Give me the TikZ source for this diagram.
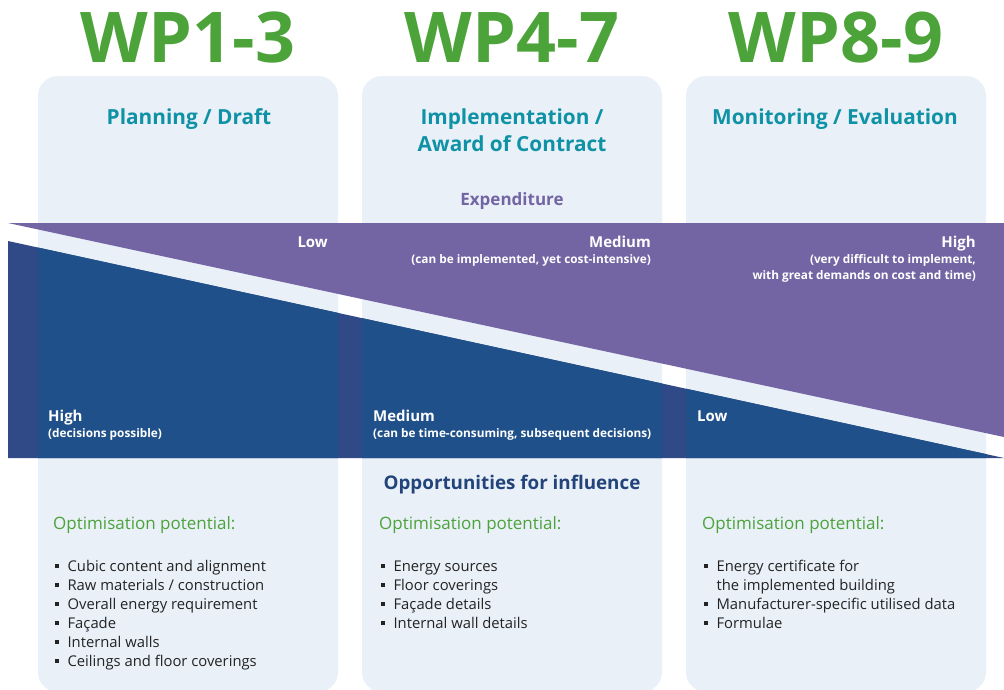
\documentclass[tikz,border=0pt]{standalone}
\usepackage{fontspec}
\setmainfont{Open Sans}
\definecolor{wpgreen}{RGB}{76,163,58}
\definecolor{titleteal}{RGB}{16,146,166}
\definecolor{panelblue}{RGB}{233,240,248}
\definecolor{costpurple}{RGB}{115,101,164}
\definecolor{inflblue}{RGB}{31,80,137}
\definecolor{inflblueout}{RGB}{47,74,135}
\definecolor{textgrey}{RGB}{35,35,35}
\definecolor{headblue}{RGB}{35,68,122}
\newcommand{\sqbul}{\raisebox{3.4pt}{\rule{3.4pt}{3.4pt}}\hspace{9pt}}
\begin{document}
\begin{tikzpicture}[x=1pt,y=-1pt,
    every node/.style={inner sep=0pt},
    wp/.style={text=wpgreen,font=\fontsize{70}{70}\selectfont\bfseries,anchor=base},
    phase/.style={text=titleteal,font=\fontsize{20.8}{20.8}\selectfont\bfseries,anchor=base},
    axis/.style={font=\fontsize{17}{17}\selectfont\bfseries,anchor=base},
    level/.style={text=white,font=\fontsize{15}{15}\selectfont\bfseries},
    note/.style={text=white,font=\fontsize{11.8}{11.8}\selectfont\bfseries},
    optim/.style={text=wpgreen,font=\fontsize{17}{17}\selectfont,anchor=base west},
    items/.style={text=textgrey,font=\fontsize{14.8}{19}\selectfont,anchor=base west,align=left}]
  \useasboundingbox (0,0) rectangle (1004,689);
  % columns
  \foreach \x in {38,362,686}
    \fill[panelblue, rounded corners=20] (\x,76) rectangle (\x+300,692);
  % expenditure and influence band
  \fill[costpurple] (8,223) -- (1004,223) -- (1004,437) -- cycle;
  \fill[inflblueout] (8,241) -- (1004,458) -- (8,458) -- cycle;
  \begin{scope}
    \clip (38,76) rectangle (338,692) (362,76) rectangle (662,692)
          (686,76) rectangle (986,692);
    \fill[inflblue] (8,241) -- (1004,458) -- (8,458) -- cycle;
  \end{scope}
  % headings
  \node (wp1) [wp] at (188,62) {WP1-3};
  \node (wp4) [wp] at (512,62) {WP4-7};
  \node (wp8) [wp] at (836,62) {WP8-9};
  \node (plan) [phase] at (189,124) {Planning / Draft};
  \node (impl) [phase] at (512,124) {Implementation /};
  \node (award) [phase] at (512,151) {Award of Contract};
  \node (moni) [phase] at (835,124) {Monitoring / Evaluation};
  \node (expend) [axis, text=costpurple] at (512,205) {Expenditure};
  \node (oppo) [axis, text=headblue, font=\fontsize{18.8}{18.8}\selectfont\bfseries] at (512,489) {Opportunities for influence};
  % expenditure levels
  \node (elow) [level, anchor=base east] at (328,247) {Low};
  \node (emed) [level, anchor=base east] at (651,247) {Medium};
  \node (emednote) [note, anchor=base east] at (651,263) {(can be implemented, yet cost-intensive)};
  \node (ehigh) [level, anchor=base east] at (976,247) {High};
  \node (ehighnote) [note, anchor=base east] at (976,263) {(very difficult to implement,};
  \node (ehighnote2) [note, anchor=base east] at (976,279) {with great demands on cost and time)};
  % influence levels
  \node (ihigh) [level, anchor=base west] at (48,421) {High};
  \node (ihighnote) [note, anchor=base west] at (48,437) {(decisions possible)};
  \node (imed) [level, anchor=base west] at (373,421) {Medium};
  \node (imednote) [note, anchor=base west] at (373,437) {(can be time-consuming, subsequent decisions)};
  \node (ilow) [level, anchor=base west] at (697,421) {Low};
  % optimisation potential (lists sit on the baseline of their last line)
  \node (opt1) [optim] at (53,529) {Optimisation potential:};
  \node (opt4) [optim] at (379,529) {Optimisation potential:};
  \node (opt8) [optim] at (702,529) {Optimisation potential:};
  \node (list1) [items] at (55,666) {\sqbul Cubic content and alignment\\
    \sqbul Raw materials / construction\\
    \sqbul Overall energy requirement\\
    \sqbul Façade\\
    \sqbul Internal walls\\
    \sqbul Ceilings and floor coverings};
  \node (list4) [items] at (381,628) {\sqbul Energy sources\\
    \sqbul Floor coverings\\
    \sqbul Façade details\\
    \sqbul Internal wall details};
  \node (list8) [items] at (704,628) {\sqbul Energy certificate for\\
    \phantom{\sqbul}the implemented building\\
    \sqbul Manufacturer-specific utilised data\\
    \sqbul Formulae};
\end{tikzpicture}
\end{document}
